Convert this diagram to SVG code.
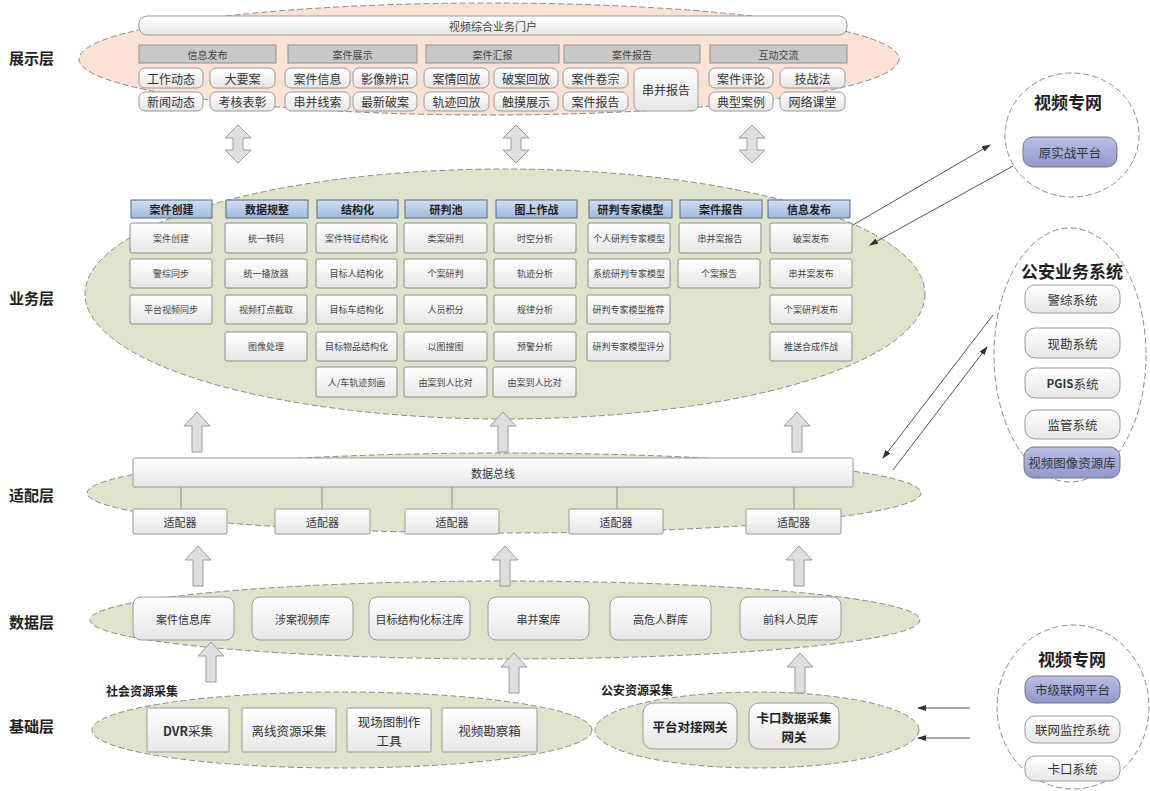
<svg xmlns="http://www.w3.org/2000/svg" width="1150" height="791" viewBox="0 0 1150 791">
  <defs>
    <linearGradient id="gBox" x1="0" y1="0" x2="0" y2="1">
      <stop offset="0" stop-color="#ffffff"/>
      <stop offset="1" stop-color="#e6e6e6"/>
    </linearGradient>
    <linearGradient id="gHead" x1="0" y1="0" x2="0" y2="1">
      <stop offset="0" stop-color="#cfdff2"/>
      <stop offset="1" stop-color="#9fbade"/>
    </linearGradient>
    <linearGradient id="gBlue" x1="0" y1="0" x2="0" y2="1">
      <stop offset="0" stop-color="#b9bfe6"/>
      <stop offset="1" stop-color="#8f98cc"/>
    </linearGradient>
    <marker id="ah" markerWidth="9" markerHeight="6" refX="8" refY="3" orient="auto" markerUnits="userSpaceOnUse">
      <path d="M0,0 L9,3 L0,6 Z" fill="#333"/>
    </marker>
    <path id="dbl" d="M0,0 L13,13 L5,13 L5,25 L13,25 L0,38 L-13,25 L-5,25 L-5,13 L-13,13 Z"/>
    <path id="up" d="M0,0 L13,14 L5,14 L5,40 L-5,40 L-5,14 L-13,14 Z"/>
  </defs>
  <style>
    .lyr { fill: #fbe2d5; stroke: #8a8a8a; stroke-width: 1; stroke-dasharray: 6 3; }
    .lyg { fill: #dfe3cc; stroke: #8a8a8a; stroke-width: 1; stroke-dasharray: 6 3; }
    .ring { fill: #ffffff; stroke: #8a8a8a; stroke-width: 1; stroke-dasharray: 6 3; }
    .box { fill: url(#gBox); stroke: #9a9a9a; stroke-width: 1; }
    .bbox { fill: url(#gBox); stroke: #8c8c8c; stroke-width: 1; }
    .cat { fill: #c8c8c8; stroke: #8f8f8f; stroke-width: 1; }
    .head { fill: url(#gHead); stroke: #5a6a80; stroke-width: 1; }
    .blue { fill: url(#gBlue); stroke: #777; stroke-width: 1; }
    .arw { fill: #dedede; stroke: #9a9a9a; stroke-width: 1; }
    .ln { stroke: #555; stroke-width: 1; fill: none; }
    .bus { stroke: #8a8a8a; stroke-width: 1; }
    text { font-family: "Noto Sans CJK SC", "Noto Sans", sans-serif; text-anchor: middle; dominant-baseline: central; fill: #333; }
    .t-lbl { font-size: 15px; font-weight: bold; text-anchor: start; fill: #222; }
    .t-cat { font-size: 10px; fill: #444; }
    .t-it { font-size: 12px; fill: #333; }
    .t-hd { font-size: 11px; font-weight: bold; fill: #1f1f1f; }
    .t-sm { font-size: 9px; fill: #444; }
    .t-db { font-size: 11px; fill: #333; }
    .t-big { font-size: 17px; font-weight: bold; fill: #1f1f1f; }
    .t-rt { font-size: 12.5px; fill: #333; }
    .t-bb { font-size: 12.5px; font-weight: bold; fill: #222; }
    .t-sub { font-size: 12px; font-weight: bold; text-anchor: start; fill: #222; }
  </style>

  <!-- layer titles -->
  <g id="layer-labels">
    <text class="t-lbl" x="9" y="57">展示层</text>
    <text class="t-lbl" x="9" y="297">业务层</text>
    <text class="t-lbl" x="9" y="494">适配层</text>
    <text class="t-lbl" x="9" y="621">数据层</text>
    <text class="t-lbl" x="9" y="725">基础层</text>
  </g>

  <!-- layer backgrounds -->
  <g id="layer-areas">
    <ellipse class="lyr" cx="489" cy="59" rx="410" ry="56"/>
    <ellipse class="lyg" cx="505" cy="294" rx="420" ry="125"/>
    <ellipse class="lyg" cx="504" cy="493" rx="417" ry="40"/>
    <ellipse class="lyg" cx="505" cy="620" rx="415" ry="39"/>
    <ellipse class="lyg" cx="342" cy="730" rx="250" ry="38"/>
    <ellipse class="lyg" cx="757" cy="730" rx="162" ry="38"/>
    <ellipse class="ring" cx="1072" cy="135" rx="67" ry="62"/>
    <ellipse class="ring" cx="1070" cy="355" rx="76" ry="127"/>
    <ellipse class="ring" cx="1073" cy="707" rx="76" ry="82"/>
  </g>

  <!-- presentation layer -->
  <g id="portal">
    <rect class="box" x="139" y="16" width="708" height="19" rx="8"/>
    <text class="t-cat" x="493" y="25.5" style="font-size:11px">视频综合业务门户</text>
  </g>
  <g id="show-info">
    <rect class="cat" x="139" y="45" width="137" height="18"/>
    <text class="t-cat" x="207.5" y="54">信息发布</text>
    <rect class="box" x="139" y="68" width="64" height="20" rx="6"/><text class="t-it" x="171" y="78">工作动态</text>
    <rect class="box" x="210" y="68" width="65" height="20" rx="6"/><text class="t-it" x="242.5" y="78">大要案</text>
    <rect class="box" x="139" y="92" width="64" height="19" rx="6"/><text class="t-it" x="171" y="101.5">新闻动态</text>
    <rect class="box" x="210" y="92" width="65" height="19" rx="6"/><text class="t-it" x="242.5" y="101.5">考核表彰</text>
  </g>
  <g id="show-case">
    <rect class="cat" x="288" y="45" width="129" height="18"/>
    <text class="t-cat" x="352.5" y="54">案件展示</text>
    <rect class="box" x="285" y="68" width="65" height="20" rx="6"/><text class="t-it" x="317.5" y="78">案件信息</text>
    <rect class="box" x="353" y="68" width="64" height="20" rx="6"/><text class="t-it" x="385" y="78">影像辨识</text>
    <rect class="box" x="285" y="92" width="65" height="19" rx="6"/><text class="t-it" x="317.5" y="101.5">串并线索</text>
    <rect class="box" x="353" y="92" width="64" height="19" rx="6"/><text class="t-it" x="385" y="101.5">最新破案</text>
  </g>
  <g id="show-review">
    <rect class="cat" x="426" y="45" width="133" height="18"/>
    <text class="t-cat" x="492.5" y="54">案件汇报</text>
    <rect class="box" x="424" y="68" width="65" height="20" rx="6"/><text class="t-it" x="456.5" y="78">案情回放</text>
    <rect class="box" x="494" y="68" width="64" height="20" rx="6"/><text class="t-it" x="526" y="78">破案回放</text>
    <rect class="box" x="424" y="92" width="65" height="19" rx="6"/><text class="t-it" x="456.5" y="101.5">轨迹回放</text>
    <rect class="box" x="494" y="92" width="64" height="19" rx="6"/><text class="t-it" x="526" y="101.5">触摸展示</text>
  </g>
  <g id="show-report">
    <rect class="cat" x="564" y="45" width="136" height="18"/>
    <text class="t-cat" x="632" y="54">案件报告</text>
    <rect class="box" x="563" y="68" width="65" height="20" rx="6"/><text class="t-it" x="595.5" y="78">案件卷宗</text>
    <rect class="box" x="563" y="92" width="65" height="19" rx="6"/><text class="t-it" x="595.5" y="101.5">案件报告</text>
    <rect class="box" x="634" y="68" width="64" height="43" rx="6"/><text class="t-it" x="666" y="89.5">串并报告</text>
  </g>
  <g id="show-talk">
    <rect class="cat" x="710" y="45" width="137" height="18"/>
    <text class="t-cat" x="778.5" y="54">互动交流</text>
    <rect class="box" x="709" y="68" width="64" height="20" rx="6"/><text class="t-it" x="741" y="78">案件评论</text>
    <rect class="box" x="780" y="68" width="65" height="20" rx="6"/><text class="t-it" x="812.5" y="78">技战法</text>
    <rect class="box" x="709" y="92" width="64" height="19" rx="6"/><text class="t-it" x="741" y="101.5">典型案例</text>
    <rect class="box" x="780" y="92" width="65" height="19" rx="6"/><text class="t-it" x="812.5" y="101.5">网络课堂</text>
  </g>

  <!-- business layer columns -->
  <g id="biz-create">
    <rect class="head" x="131" y="200" width="81" height="18"/><text class="t-hd" x="171.5" y="209">案件创建</text>
    <rect class="bbox" x="130" y="223" width="82" height="30" rx="2"/><text class="t-sm" x="171" y="238">案件创建</text>
    <rect class="bbox" x="130" y="259" width="82" height="29" rx="2"/><text class="t-sm" x="171" y="273.5">警综同步</text>
    <rect class="bbox" x="130" y="295" width="82" height="29" rx="2"/><text class="t-sm" x="171" y="309.5">平台视频同步</text>
  </g>
  <g id="biz-normalize">
    <rect class="head" x="226" y="200" width="82" height="18"/><text class="t-hd" x="267" y="209">数据规整</text>
    <rect class="bbox" x="225" y="223" width="82" height="30" rx="2"/><text class="t-sm" x="266" y="238">统一转码</text>
    <rect class="bbox" x="225" y="259" width="82" height="29" rx="2"/><text class="t-sm" x="266" y="273.5">统一播放器</text>
    <rect class="bbox" x="225" y="295" width="82" height="29" rx="2"/><text class="t-sm" x="266" y="309.5">视频打点截取</text>
    <rect class="bbox" x="225" y="332" width="82" height="29" rx="2"/><text class="t-sm" x="266" y="346.5">图像处理</text>
  </g>
  <g id="biz-struct">
    <rect class="head" x="317" y="200" width="81" height="18"/><text class="t-hd" x="357.5" y="209">结构化</text>
    <rect class="bbox" x="316" y="223" width="81" height="30" rx="2"/><text class="t-sm" x="356.5" y="238">案件特征结构化</text>
    <rect class="bbox" x="316" y="259" width="81" height="29" rx="2"/><text class="t-sm" x="356.5" y="273.5">目标人结构化</text>
    <rect class="bbox" x="316" y="295" width="81" height="29" rx="2"/><text class="t-sm" x="356.5" y="309.5">目标车结构化</text>
    <rect class="bbox" x="316" y="332" width="81" height="29" rx="2"/><text class="t-sm" x="356.5" y="346.5">目标物品结构化</text>
    <rect class="bbox" x="316" y="367" width="81" height="30" rx="2"/><text class="t-sm" x="356.5" y="382">人/车轨迹刻画</text>
  </g>
  <g id="biz-pool">
    <rect class="head" x="405" y="200" width="82" height="18"/><text class="t-hd" x="446" y="209">研判池</text>
    <rect class="bbox" x="404" y="223" width="83" height="30" rx="2"/><text class="t-sm" x="445.5" y="238">类案研判</text>
    <rect class="bbox" x="404" y="259" width="83" height="29" rx="2"/><text class="t-sm" x="445.5" y="273.5">个案研判</text>
    <rect class="bbox" x="404" y="295" width="83" height="29" rx="2"/><text class="t-sm" x="445.5" y="309.5">人员积分</text>
    <rect class="bbox" x="404" y="332" width="83" height="29" rx="2"/><text class="t-sm" x="445.5" y="346.5">以图搜图</text>
    <rect class="bbox" x="404" y="367" width="83" height="30" rx="2"/><text class="t-sm" x="445.5" y="382">由案到人比对</text>
  </g>
  <g id="biz-map">
    <rect class="head" x="496" y="200" width="81" height="18"/><text class="t-hd" x="536.5" y="209">图上作战</text>
    <rect class="bbox" x="494" y="223" width="82" height="30" rx="2"/><text class="t-sm" x="535" y="238">时空分析</text>
    <rect class="bbox" x="494" y="259" width="82" height="29" rx="2"/><text class="t-sm" x="535" y="273.5">轨迹分析</text>
    <rect class="bbox" x="494" y="295" width="82" height="29" rx="2"/><text class="t-sm" x="535" y="309.5">规律分析</text>
    <rect class="bbox" x="494" y="332" width="82" height="29" rx="2"/><text class="t-sm" x="535" y="346.5">预警分析</text>
    <rect class="bbox" x="493" y="367" width="83" height="30" rx="2"/><text class="t-sm" x="534.5" y="382">由案到人比对</text>
  </g>
  <g id="biz-model">
    <rect class="head" x="589" y="200" width="83" height="18"/><text class="t-hd" x="630.5" y="209">研判专家模型</text>
    <rect class="bbox" x="588" y="223" width="82" height="30" rx="2"/><text class="t-sm" x="629" y="238">个人研判专家模型</text>
    <rect class="bbox" x="588" y="259" width="82" height="29" rx="2"/><text class="t-sm" x="629" y="273.5">系统研判专家模型</text>
    <rect class="bbox" x="587" y="295" width="83" height="29" rx="2"/><text class="t-sm" x="628.5" y="309.5">研判专家模型推荐</text>
    <rect class="bbox" x="587" y="332" width="83" height="29" rx="2"/><text class="t-sm" x="628.5" y="346.5">研判专家模型评分</text>
  </g>
  <g id="biz-report">
    <rect class="head" x="680" y="200" width="82" height="18"/><text class="t-hd" x="721" y="209">案件报告</text>
    <rect class="bbox" x="679" y="223" width="82" height="30" rx="2"/><text class="t-sm" x="720" y="238">串并案报告</text>
    <rect class="bbox" x="678" y="259" width="82" height="29" rx="2"/><text class="t-sm" x="719" y="273.5">个案报告</text>
  </g>
  <g id="biz-publish">
    <rect class="head" x="768" y="200" width="82" height="18"/><text class="t-hd" x="809" y="209">信息发布</text>
    <rect class="bbox" x="770" y="223" width="82" height="30" rx="2"/><text class="t-sm" x="811" y="238">破案发布</text>
    <rect class="bbox" x="770" y="259" width="82" height="29" rx="2"/><text class="t-sm" x="811" y="273.5">串并案发布</text>
    <rect class="bbox" x="770" y="295" width="82" height="29" rx="2"/><text class="t-sm" x="811" y="309.5">个案研判发布</text>
    <rect class="bbox" x="770" y="332" width="82" height="29" rx="2"/><text class="t-sm" x="811" y="346.5">推送合成作战</text>
  </g>

  <!-- adapter layer -->
  <g id="data-bus">
    <rect class="box" x="133" y="458" width="720" height="29" rx="1"/>
    <text class="t-db" x="493" y="472.5">数据总线</text>
  </g>
  <g id="adapter-1"><rect class="box" x="133" y="509" width="94" height="25" rx="1"/><text class="t-db" x="180" y="521.5">适配器</text></g>
  <g id="adapter-2"><rect class="box" x="275" y="509" width="95" height="25" rx="1"/><text class="t-db" x="322.5" y="521.5">适配器</text></g>
  <g id="adapter-3"><rect class="box" x="405" y="509" width="94" height="25" rx="1"/><text class="t-db" x="452" y="521.5">适配器</text></g>
  <g id="adapter-4"><rect class="box" x="569" y="509" width="94" height="25" rx="1"/><text class="t-db" x="616" y="521.5">适配器</text></g>
  <g id="adapter-5"><rect class="box" x="746" y="509" width="95" height="25" rx="1"/><text class="t-db" x="793.5" y="521.5">适配器</text></g>

  <!-- data layer -->
  <g id="db-case"><rect class="box" x="133" y="597" width="101" height="43" rx="8"/><text class="t-db" x="183.5" y="618.5">案件信息库</text></g>
  <g id="db-video"><rect class="box" x="252" y="597" width="101" height="43" rx="8"/><text class="t-db" x="302.5" y="618.5">涉案视频库</text></g>
  <g id="db-target"><rect class="box" x="369" y="597" width="101" height="43" rx="8"/><text class="t-db" x="419.5" y="618.5">目标结构化标注库</text></g>
  <g id="db-serial"><rect class="box" x="488" y="597" width="101" height="43" rx="8"/><text class="t-db" x="538.5" y="618.5">串并案库</text></g>
  <g id="db-risk"><rect class="box" x="610" y="597" width="101" height="43" rx="8"/><text class="t-db" x="660.5" y="618.5">高危人群库</text></g>
  <g id="db-record"><rect class="box" x="740" y="597" width="101" height="43" rx="8"/><text class="t-db" x="790.5" y="618.5">前科人员库</text></g>

  <!-- foundation layer -->
  <g id="base-social">
    <text class="t-sub" x="106" y="690">社会资源采集</text>
    <rect class="box" x="147" y="708" width="82" height="44" rx="1"/><text class="t-rt" x="188" y="730"><tspan font-weight="bold">DVR</tspan>采集</text>
    <rect class="box" x="242" y="708" width="94" height="44" rx="1"/><text class="t-rt" x="289" y="730">离线资源采集</text>
    <rect class="box" x="347" y="708" width="84" height="44" rx="1"/><text class="t-rt" x="389" y="721">现场图制作</text><text class="t-rt" x="389" y="740">工具</text>
    <rect class="box" x="442" y="708" width="95" height="44" rx="1"/><text class="t-rt" x="489.5" y="730">视频勘察箱</text>
  </g>
  <g id="base-police">
    <text class="t-sub" x="601" y="689">公安资源采集</text>
    <rect class="box" x="643" y="703" width="94" height="46" rx="10"/><text class="t-bb" x="690" y="726">平台对接网关</text>
    <rect class="box" x="749" y="703" width="90" height="46" rx="10"/><text class="t-bb" x="794" y="717">卡口数据采集</text><text class="t-bb" x="794" y="736">网关</text>
  </g>

  <!-- external systems -->
  <g id="net-top">
    <text class="t-big" x="1068" y="101">视频专网</text>
    <rect class="blue" x="1023" y="137" width="94" height="30" rx="10"/><text class="t-rt" x="1070" y="152">原实战平台</text>
  </g>
  <g id="police-systems">
    <text class="t-big" x="1072" y="270">公安业务系统</text>
    <rect class="box" x="1025" y="285" width="95" height="28" rx="10"/><text class="t-rt" x="1072.5" y="299">警综系统</text>
    <rect class="box" x="1025" y="328" width="95" height="30" rx="10"/><text class="t-rt" x="1072.5" y="343">现勘系统</text>
    <rect class="box" x="1025" y="368" width="95" height="30" rx="10"/><text class="t-rt" x="1072.5" y="383"><tspan font-weight="bold" font-size="11.5">PGIS</tspan>系统</text>
    <rect class="box" x="1025" y="410" width="95" height="29" rx="10"/><text class="t-rt" x="1072.5" y="424.5">监管系统</text>
    <rect class="blue" x="1024" y="447" width="96" height="31" rx="10"/><text class="t-rt" x="1072" y="462.5">视频图像资源库</text>
  </g>
  <g id="net-bottom">
    <text class="t-big" x="1072" y="658">视频专网</text>
    <rect class="blue" x="1025" y="676" width="95" height="27" rx="10"/><text class="t-rt" x="1072.5" y="689.5">市级联网平台</text>
    <rect class="box" x="1025" y="716" width="95" height="27" rx="10"/><text class="t-rt" x="1072.5" y="729.5">联网监控系统</text>
    <rect class="box" x="1025" y="756" width="95" height="25" rx="10"/><text class="t-rt" x="1072.5" y="768.5">卡口系统</text>
  </g>

  <!-- connectors -->
  <g id="connectors">
    <!-- bus drops -->
    <line class="bus" x1="181" y1="487" x2="181" y2="509"/>
    <line class="bus" x1="322" y1="487" x2="322" y2="509"/>
    <line class="bus" x1="452" y1="487" x2="452" y2="509"/>
    <line class="bus" x1="617" y1="487" x2="617" y2="509"/>
    <line class="bus" x1="794" y1="487" x2="794" y2="509"/>
    <!-- presentation / business exchange -->
    <use href="#dbl" class="arw" x="238" y="125"/>
    <use href="#dbl" class="arw" x="516" y="125"/>
    <use href="#dbl" class="arw" x="752" y="125"/>
    <!-- upward block arrows -->
    <use href="#up" class="arw" x="197" y="412"/>
    <use href="#up" class="arw" x="503" y="412"/>
    <use href="#up" class="arw" x="797" y="412"/>
    <use href="#up" class="arw" x="198" y="546"/>
    <use href="#up" class="arw" x="505" y="546"/>
    <use href="#up" class="arw" x="799" y="546"/>
    <use href="#up" class="arw" x="211" y="642"/>
    <use href="#up" class="arw" x="514" y="653"/>
    <use href="#up" class="arw" x="800" y="653"/>
    <!-- external links -->
    <line class="ln" x1="853" y1="225" x2="990" y2="145" marker-end="url(#ah)"/>
    <line class="ln" x1="1013" y1="166" x2="870" y2="245" marker-end="url(#ah)"/>
    <line class="ln" x1="993" y1="315" x2="883" y2="458" marker-end="url(#ah)"/>
    <line class="ln" x1="893" y1="470" x2="987" y2="347" marker-end="url(#ah)"/>
    <line class="ln" x1="970" y1="708" x2="918" y2="708" marker-end="url(#ah)"/>
    <line class="ln" x1="970" y1="738" x2="918" y2="738" marker-end="url(#ah)"/>
  </g>
</svg>
